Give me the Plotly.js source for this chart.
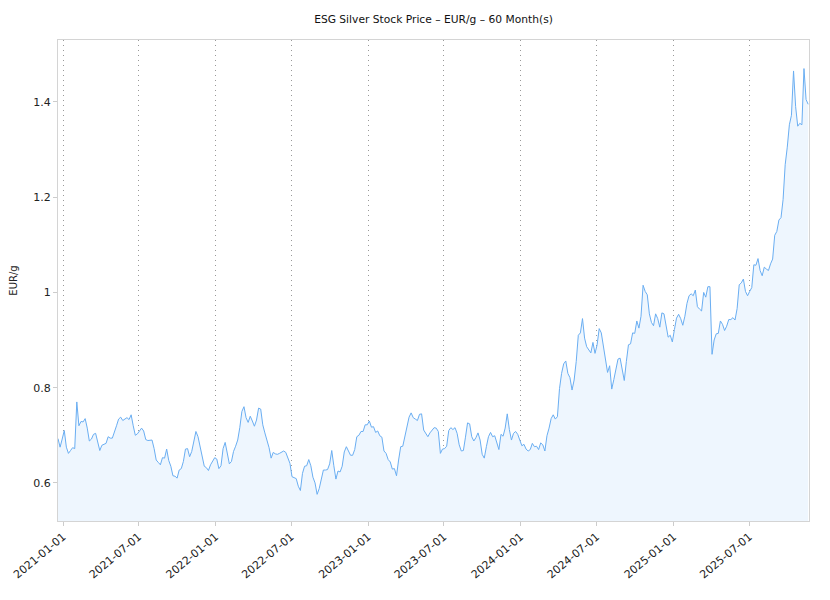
<!DOCTYPE html>
<html>
<head>
<meta charset="utf-8">
<script src="https://cdn.plot.ly/plotly-3.0.1.min.js"></script>
<style>html,body{margin:0;padding:0;background:#fff;}#chart{width:830px;height:600px;}</style>
</head>
<body>
<div id="chart"></div>
<script>
// Series start date and sampling interval (every 5 days)
const startDate = '2020-12-20';
const stepDays = 5;

// ESG silver price, EUR per gram
const priceEURg = [
0.693,0.675,0.692,0.710,0.675,0.662,0.668,0.674,0.672,0.770,
0.720,0.729,0.728,0.735,0.715,0.688,0.692,0.702,0.704,0.685,
0.668,0.679,0.681,0.683,0.697,0.694,0.694,0.705,0.720,0.734,
0.738,0.731,0.734,0.737,0.733,0.743,0.720,0.700,0.703,0.708,
0.715,0.709,0.691,0.689,0.690,0.690,0.672,0.648,0.643,0.638,
0.653,0.652,0.671,0.647,0.635,0.615,0.614,0.610,0.627,0.630,
0.645,0.671,0.672,0.655,0.666,0.690,0.708,0.697,0.675,0.652,
0.635,0.632,0.626,0.638,0.646,0.653,0.650,0.630,0.636,0.672,
0.685,0.660,0.640,0.645,0.666,0.677,0.690,0.716,0.750,0.760,
0.737,0.727,0.740,0.730,0.719,0.732,0.757,0.755,0.722,0.705,
0.689,0.674,0.652,0.664,0.661,0.660,0.662,0.665,0.667,0.664,
0.650,0.641,0.613,0.611,0.609,0.593,0.584,0.620,0.635,0.636,
0.649,0.636,0.612,0.600,0.576,0.588,0.606,0.627,0.627,0.628,
0.640,0.668,0.636,0.608,0.625,0.623,0.635,0.665,0.676,0.667,
0.658,0.658,0.670,0.697,0.700,0.708,0.708,0.722,0.722,0.730,
0.717,0.718,0.706,0.709,0.699,0.696,0.667,0.662,0.649,0.644,
0.629,0.630,0.615,0.648,0.676,0.677,0.698,0.722,0.738,0.747,
0.737,0.734,0.731,0.744,0.745,0.711,0.705,0.697,0.705,0.710,
0.716,0.715,0.708,0.662,0.671,0.672,0.677,0.710,0.716,0.712,
0.716,0.704,0.680,0.667,0.668,0.696,0.726,0.724,0.697,0.688,
0.695,0.705,0.690,0.660,0.652,0.676,0.697,0.706,0.697,0.699,
0.686,0.670,0.702,0.698,0.715,0.745,0.712,0.690,0.704,0.708,
0.702,0.688,0.678,0.681,0.671,0.667,0.670,0.683,0.676,0.677,
0.670,0.684,0.680,0.667,0.699,0.715,0.735,0.743,0.734,0.739,
0.798,0.830,0.850,0.856,0.830,0.821,0.795,0.816,0.855,0.910,
0.915,0.945,0.904,0.886,0.880,0.873,0.895,0.872,0.890,0.924,
0.915,0.885,0.864,0.832,0.846,0.797,0.817,0.841,0.860,0.862,
0.838,0.815,0.855,0.890,0.892,0.915,0.914,0.940,0.925,0.950,
1.015,1.002,0.995,0.955,0.937,0.930,0.955,0.945,0.927,0.957,
0.955,0.934,0.906,0.910,0.896,0.922,0.946,0.954,0.945,0.931,
0.950,0.977,0.993,0.997,0.993,1.005,0.970,0.965,0.961,1.000,
0.990,1.012,1.012,0.870,0.900,0.913,0.914,0.940,0.933,0.920,
0.929,0.943,0.943,0.947,0.942,0.966,1.016,1.020,1.028,1.002,
0.993,1.002,1.010,1.058,1.057,1.071,1.046,1.035,1.053,1.049,
1.046,1.060,1.070,1.120,1.128,1.152,1.157,1.195,1.268,1.305,
1.352,1.372,1.465,1.390,1.349,1.355,1.352,1.470,1.405,1.395
];

// Axis ticks
const xTickVals = ['2021-01-01','2021-07-01','2022-01-01','2022-07-01','2023-01-01',
                   '2023-07-01','2024-01-01','2024-07-01','2025-01-01','2025-07-01'];
const yTickVals = [0.6, 0.8, 1.0, 1.2, 1.4];
const yTickText = ['0.6', '0.8', '1', '1.2', '1.4'];

const trace = {
  type: 'scatter',
  mode: 'lines',
  x0: startDate,
  dx: stepDays * 24 * 3600 * 1000,
  y: priceEURg,
  line: {color: '#6aaef2', width: 1},
  fill: 'tozeroy',
  fillcolor: '#eef6fe',
  hoverinfo: 'x+y'
};

const layout = {
  width: 830,
  height: 600,
  margin: {l: 58, r: 21, t: 40, b: 79},
  paper_bgcolor: '#ffffff',
  plot_bgcolor: '#ffffff',
  font: {family: 'DejaVu Sans, sans-serif', size: 11, color: '#222'},
  showlegend: false,
  title: {
    text: 'ESG Silver Stock Price – EUR/g – 60 Month(s)',
    font: {family: 'DejaVu Sans, sans-serif', size: 10.7, color: '#111'},
    x: 0.5, xref: 'paper', xanchor: 'center',
    y: 0.968, yref: 'container', yanchor: 'middle'
  },
  xaxis: {
    type: 'date',
    range: ['2020-12-20', '2025-11-21'],
    tickvals: xTickVals,
    tickformat: '%Y-%m-%d',
    tickangle: -40,
    ticks: 'outside',
    ticklen: 4,
    tickcolor: '#cccccc',
    showgrid: true,
    gridcolor: '#999999',
    griddash: '1px,4px',
    gridwidth: 1,
    showline: true,
    linecolor: '#d4d4d4',
    linewidth: 1,
    mirror: true,
    zeroline: false,
    tickfont: {size: 11, color: '#222'}
  },
  yaxis: {
    range: [0.52, 1.53],
    tickvals: yTickVals,
    ticktext: yTickText,
    ticks: 'outside',
    ticklen: 4,
    tickcolor: '#cccccc',
    showgrid: false,
    showline: true,
    linecolor: '#d4d4d4',
    linewidth: 1,
    mirror: true,
    zeroline: false,
    tickfont: {size: 11, color: '#222'},
    title: {text: 'EUR/g', font: {size: 10, color: '#222'}, standoff: 13}
  }
};

Plotly.newPlot('chart', [trace], layout, {displayModeBar: false, staticPlot: true});
</script>
</body>
</html>
